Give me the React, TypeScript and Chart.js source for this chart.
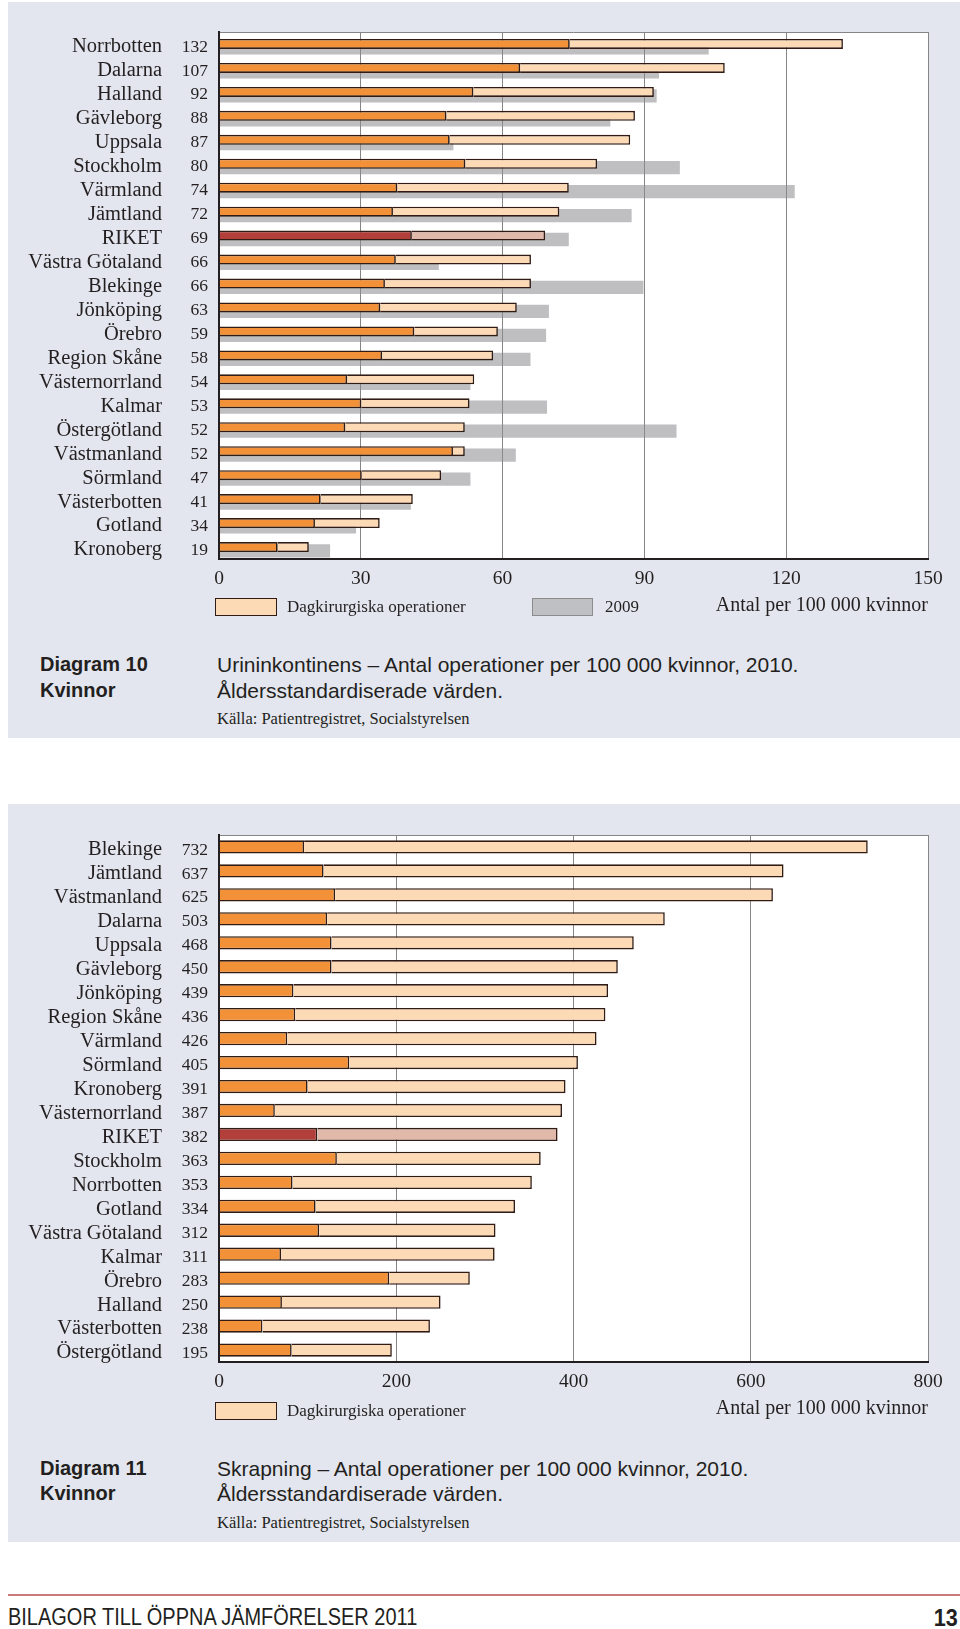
import React, { useEffect, useRef } from 'react';
import { Chart, registerables } from 'chart.js';

Chart.register(...registerables);

// ---------- Diagram 10: Urininkontinens ----------
const regions10 = [
  'Norrbotten', 'Dalarna', 'Halland', 'Gävleborg', 'Uppsala', 'Stockholm', 'Värmland', 'Jämtland',
  'RIKET', 'Västra Götaland', 'Blekinge', 'Jönköping', 'Örebro', 'Region Skåne', 'Västernorrland',
  'Kalmar', 'Östergötland', 'Västmanland', 'Sörmland', 'Västerbotten', 'Gotland', 'Kronoberg',
];
const totals10 = [132, 107, 92, 88, 87, 80, 74, 72, 69, 66, 66, 63, 59, 58, 54, 53, 52, 52, 47, 41, 34, 19];
const inpatient10 = [74.2, 63.7, 53.8, 48.1, 48.8, 52.1, 37.7, 36.8, 40.8, 37.4, 35.1, 34.1, 41.3, 34.5, 27.1, 30.1, 26.7, 49.5, 30.2, 21.5, 20.3, 12.4];
const daySurgery10 = [57.8, 43.3, 38.2, 39.9, 38.2, 27.9, 36.3, 35.2, 28.2, 28.6, 30.9, 28.9, 17.7, 23.5, 26.9, 22.9, 25.3, 2.5, 16.8, 19.5, 13.7, 6.6];
const year2009 = [103.6, 93.1, 92.6, 82.8, 49.6, 97.5, 121.8, 87.3, 74.0, 46.5, 89.8, 69.8, 69.2, 65.9, 53.2, 69.4, 96.8, 62.8, 53.2, 40.6, 29.0, 23.5];
const ticks10 = [0, 30, 60, 90, 120, 150];

// ---------- Diagram 11: Skrapning ----------
const regions11 = [
  'Blekinge', 'Jämtland', 'Västmanland', 'Dalarna', 'Uppsala', 'Gävleborg', 'Jönköping', 'Region Skåne',
  'Värmland', 'Sörmland', 'Kronoberg', 'Västernorrland', 'RIKET', 'Stockholm', 'Norrbotten', 'Gotland',
  'Västra Götaland', 'Kalmar', 'Örebro', 'Halland', 'Västerbotten', 'Östergötland',
];
const totals11 = [732, 637, 625, 503, 468, 450, 439, 436, 426, 405, 391, 387, 382, 363, 353, 334, 312, 311, 283, 250, 238, 195];
const inpatient11 = [96, 118, 131, 122, 127, 127, 84, 86, 77, 147, 100, 63, 111, 133, 83, 109, 113, 70, 192, 71, 49, 82];
const daySurgery11 = [636, 519, 494, 381, 341, 323, 355, 350, 349, 258, 291, 324, 271, 230, 270, 225, 199, 241, 91, 179, 189, 113];
const ticks11 = [0, 200, 400, 600, 800];

// ---------- styles ----------
const SERIF = '"Liberation Serif", "Times New Roman", serif';
const SANS = '"Liberation Sans", Arial, Helvetica, sans-serif';
const ORANGE = 'rgb(242,145,55)';
const PEACH = 'rgb(253,218,182)';
const RIKET_DARK = 'rgb(178,63,58)';
const RIKET_LIGHT = 'rgb(225,185,170)';
const EDGE = 'rgb(48,28,20)';
const GRAY_2009 = 'rgba(140,141,146,0.56)';
const PANEL_BG = 'rgb(227,230,238)';
const INK = '#231f20';
const GRID = '#858585';

const plotBg = {
  id: 'plotBg',
  beforeDraw(chart: any) {
    const { ctx, chartArea: a } = chart;
    ctx.save();
    ctx.fillStyle = '#ffffff';
    ctx.fillRect(a.left, a.top, a.right - a.left, a.bottom - a.top);
    ctx.restore();
  },
};

type PanelChartProps = {
  labels: string[];
  totals: number[];
  inpatient: number[];
  day: number[];
  prev?: number[];
  ticks: number[];
  top: number;
};

function PanelChart({ labels, totals, inpatient, day, prev, ticks, top }: PanelChartProps) {
  const ref = useRef<HTMLCanvasElement | null>(null);
  useEffect(() => {
    if (!ref.current) return;
    const isRiket = (l: string) => l === 'RIKET';
    // With the 2009 comparison, each category holds three grouped slots
    // (an empty leading slot, the 2010 stack, the 2009 bar); bars are wider
    // than their slot so the 2009 bar sits partly behind the 2010 bar.
    const mainBar = prev
      ? { categoryPercentage: 0.4885, barPercentage: 2.56 }
      : { categoryPercentage: 1, barPercentage: 0.555 };
    const datasets: any[] = [];
    if (prev) {
      datasets.push({
        label: '',
        data: labels.map(() => null),
        stack: 'lead',
        backgroundColor: 'rgba(0,0,0,0)',
        borderWidth: 0,
        categoryPercentage: 0.4885,
        barPercentage: 1,
      });
    }
    datasets.push(
      {
        label: 'Slutenvård',
        data: inpatient,
        stack: 'main',
        backgroundColor: labels.map((l) => (isRiket(l) ? RIKET_DARK : ORANGE)),
        borderColor: EDGE,
        borderWidth: 1.6,
        ...mainBar,
      },
      {
        label: 'Dagkirurgiska operationer',
        data: day,
        stack: 'main',
        backgroundColor: labels.map((l) => (isRiket(l) ? RIKET_LIGHT : PEACH)),
        borderColor: EDGE,
        borderWidth: 1.6,
        ...mainBar,
      },
    );
    if (prev) {
      datasets.push({
        label: '2009',
        data: prev,
        stack: 'prev',
        backgroundColor: GRAY_2009,
        borderWidth: 0,
        categoryPercentage: 0.4885,
        barPercentage: 3.41,
        order: 5,
      });
    }
    const noPad = (s: any) => {
      s.paddingTop = 0;
      s.paddingBottom = 0;
    };
    const chart = new Chart(ref.current, {
      type: 'bar',
      data: { labels, datasets },
      options: {
        indexAxis: 'y',
        animation: false,
        responsive: false,
        devicePixelRatio: 1,
        layout: { padding: { top: 12, right: 32, left: 0, bottom: 0 } },
        plugins: { legend: { display: false }, tooltip: { enabled: false } },
        scales: {
          x: {
            type: 'linear',
            stacked: true,
            min: ticks[0],
            max: ticks[ticks.length - 1],
            ticks: {
              stepSize: ticks[1] - ticks[0],
              padding: 8,
              font: { family: SERIF, size: 19.5 },
              color: INK,
            },
            grid: { color: GRID, lineWidth: 1, drawTicks: false },
            border: { color: INK, width: 2, z: 1 },
            title: {
              display: true,
              text: 'Antal per 100 000 kvinnor',
              align: 'end',
              font: { family: SERIF, size: 20, lineHeight: 1.2 },
              color: INK,
              padding: 0,
            },
            afterFit: (s: any) => {
              s.height = 59;
            },
          },
          y: {
            type: 'category',
            position: 'left',
            weight: 1,
            offset: true,
            grid: {
              offset: true,
              drawTicks: false,
              lineWidth: 1,
              color: (c: any) => (c.index === 0 ? GRID : 'rgba(0,0,0,0)'),
            },
            border: { display: false },
            ticks: {
              autoSkip: false,
              padding: 12,
              labelOffset: 3,
              font: { family: SERIF, size: 20.5 },
              color: INK,
            },
            afterFit: (s: any) => {
              s.width = 166;
              noPad(s);
            },
          },
          yv: {
            type: 'category',
            position: 'left',
            weight: 0,
            labels: totals.map(String),
            offset: true,
            grid: { display: false, drawTicks: false },
            border: { color: INK, width: 2, z: 1 },
            ticks: {
              autoSkip: false,
              padding: 11,
              labelOffset: 3,
              font: { family: SERIF, size: 17.5 },
              color: INK,
            },
            afterFit: (s: any) => {
              s.width = 45;
              noPad(s);
            },
          },
        },
      } as any,
      plugins: [plotBg],
    });
    return () => chart.destroy();
  }, []);
  return (
    <canvas
      ref={ref}
      width={952}
      height={598}
      style={{ position: 'absolute', left: 8, top, width: 952, height: 598 }}
    />
  );
}

function Txt({
  x,
  y,
  size,
  family,
  weight,
  children,
  right,
  squeeze,
}: {
  x?: number;
  y: number;
  size: number;
  family: string;
  weight?: number;
  children: React.ReactNode;
  right?: number;
  squeeze?: number;
}) {
  const lh = Math.round(size * 1.3);
  return (
    <div
      style={{
        position: 'absolute',
        left: x,
        right,
        top: y - lh / 2,
        fontSize: size,
        lineHeight: `${lh}px`,
        fontFamily: family,
        fontWeight: weight ?? 400,
        color: INK,
        whiteSpace: 'nowrap',
        transform: squeeze ? `scaleX(${squeeze})` : undefined,
        transformOrigin: right !== undefined ? 'right center' : 'left center',
      }}
    >
      {children}
    </div>
  );
}

function Box({ x, y, w, h, bg, border }: { x: number; y: number; w: number; h: number; bg: string; border: string }) {
  return (
    <div
      style={{
        position: 'absolute',
        left: x,
        top: y,
        width: w,
        height: h,
        boxSizing: 'border-box',
        background: bg,
        border,
      }}
    />
  );
}

export default function App() {
  return (
    <div style={{ position: 'absolute', left: 0, top: 0, width: 960, height: 1629, overflow: 'hidden', background: '#fff' }}>
      {/* Panel 1 */}
      <div style={{ position: 'absolute', left: 8, top: 2, width: 952, height: 736, background: PANEL_BG }} />
      <PanelChart
        labels={regions10}
        totals={totals10}
        inpatient={inpatient10}
        day={daySurgery10}
        prev={year2009}
        ticks={ticks10}
        top={20}
      />
      <Box x={215} y={598} w={62} h={18} bg={PEACH} border={`1.6px solid ${EDGE}`} />
      <Txt x={287} y={607} size={17} family={SERIF}>Dagkirurgiska operationer</Txt>
      <Box x={532} y={598} w={61} h={18} bg="rgb(191,192,195)" border="1px solid #8c8c8c" />
      <Txt x={605} y={607} size={17} family={SERIF}>2009</Txt>

      <Txt x={40} y={664} size={20} family={SANS} weight={700}>Diagram 10</Txt>
      <Txt x={40} y={690} size={20} family={SANS} weight={700}>Kvinnor</Txt>
      <Txt x={217} y={664} size={21} family={SANS}>Urininkontinens – Antal operationer per 100 000 kvinnor, 2010.</Txt>
      <Txt x={217} y={690} size={21} family={SANS}>Åldersstandardiserade värden.</Txt>
      <Txt x={217} y={718} size={16.5} family={SERIF}>Källa: Patientregistret, Socialstyrelsen</Txt>

      {/* Panel 2 */}
      <div style={{ position: 'absolute', left: 8, top: 804, width: 952, height: 738, background: PANEL_BG }} />
      <PanelChart
        labels={regions11}
        totals={totals11}
        inpatient={inpatient11}
        day={daySurgery11}
        ticks={ticks11}
        top={823}
      />
      <Box x={215} y={1402} w={62} h={18} bg={PEACH} border={`1.6px solid ${EDGE}`} />
      <Txt x={287} y={1411} size={17} family={SERIF}>Dagkirurgiska operationer</Txt>

      <Txt x={40} y={1468} size={20} family={SANS} weight={700}>Diagram 11</Txt>
      <Txt x={40} y={1493} size={20} family={SANS} weight={700}>Kvinnor</Txt>
      <Txt x={217} y={1468} size={21} family={SANS}>Skrapning – Antal operationer per 100 000 kvinnor, 2010.</Txt>
      <Txt x={217} y={1493} size={21} family={SANS}>Åldersstandardiserade värden.</Txt>
      <Txt x={217} y={1522} size={16.5} family={SERIF}>Källa: Patientregistret, Socialstyrelsen</Txt>

      {/* Footer */}
      <div style={{ position: 'absolute', left: 8, top: 1594, width: 952, height: 2, background: 'rgb(199,123,123)' }} />
      <Txt x={8} y={1617} size={23.5} family={SANS} squeeze={0.85}>BILAGOR TILL ÖPPNA JÄMFÖRELSER 2011</Txt>
      <Txt right={2} y={1617} size={24} family={SANS} weight={700} squeeze={0.9}>13</Txt>
    </div>
  );
}
